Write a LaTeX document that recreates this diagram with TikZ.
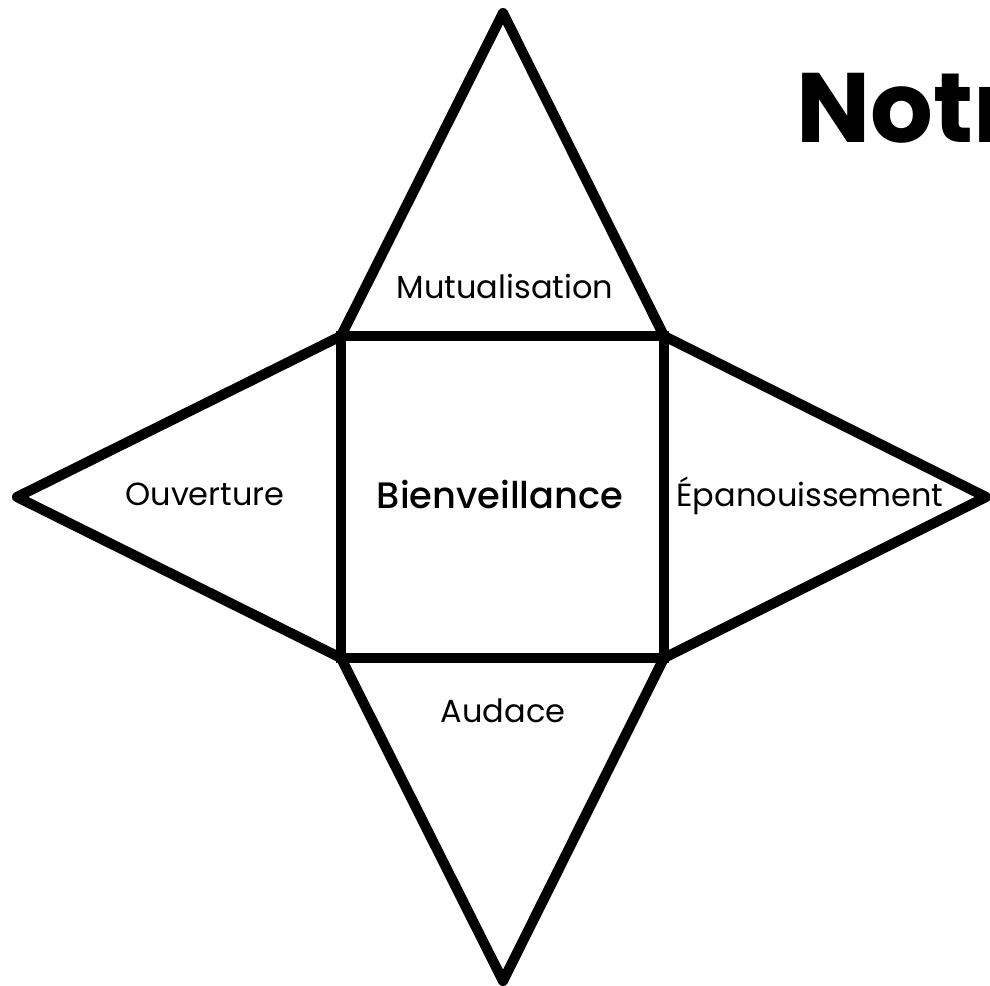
\documentclass[tikz,border=0pt]{standalone}
\usepackage{fontspec}
\setmainfont{Poppins}
\newfontfamily\poppinsmed{Poppins Medium}
\usepackage{tikz}
\usetikzlibrary{positioning}
\definecolor{inkblack}{HTML}{000000}

\begin{document}
\begin{tikzpicture}[x=0.75pt, y=-0.75pt,
  face/.style={draw=inkblack, line width=7.6pt, line join=round},
  base/.style={draw=inkblack, line width=8.2pt, line join=miter},
  valeur/.style={font=\fontsize{24}{28}\selectfont, inner sep=0pt}]
  \useasboundingbox (0,0) rectangle (990,986);
  % corners of the square and tips of the star
  \coordinate (nw) at (341,336);
  \coordinate (ne) at (664,336);
  \coordinate (se) at (664,658);
  \coordinate (sw) at (341,658);
  \coordinate (top) at (503,13);
  \coordinate (bot) at (503,981);
  \coordinate (lft) at (17,497);
  \coordinate (rgt) at (986,497);
  \draw[face] (nw) -- (top) -- (ne);
  \draw[face] (nw) -- (lft) -- (sw);
  \draw[face] (ne) -- (rgt) -- (se);
  \draw[face] (sw) -- (bot) -- (se);
  \draw[base] (nw) -- (ne) -- (se) -- (sw) -- cycle;
  % labels
  \node[valeur, anchor=base] (mutu) at (505,298) {Mutualisation};
  \node[valeur, anchor=base] (ouve) at (205,505) {Ouverture};
  \node[valeur, anchor=base] (epan) at (810,506) {Épanouissement};
  \node[valeur, anchor=base] (auda) at (503,722) {Audace};
  \node[anchor=base, inner sep=0pt, font=\poppinsmed\fontsize{27.6}{32}\selectfont] (bien) at (500,508) {Bienveillance};
  \node[anchor=base west, inner sep=0pt, font=\bfseries\fontsize{74}{80}\selectfont] (titre) at (796,142) {Notr};
\end{tikzpicture}
\end{document}
